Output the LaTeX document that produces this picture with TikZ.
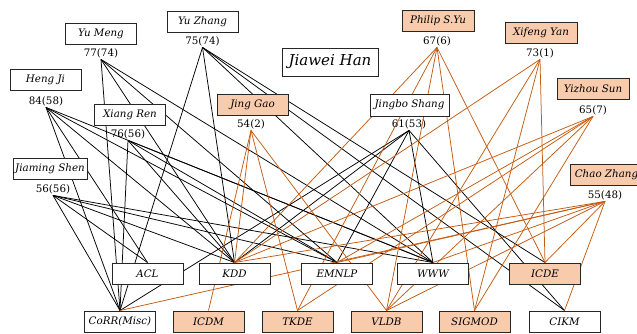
\documentclass[tikz,border=0pt]{standalone}
\usepackage{fontspec}
\setmainfont{DejaVu Serif}
\usetikzlibrary{backgrounds}
\definecolor{edgeor}{RGB}{197,90,17}
\definecolor{peach}{RGB}{248,203,173}
\begin{document}
\begin{tikzpicture}[x=1pt,y=-1pt,
  box/.style={draw=black!85,line width=1pt,minimum width=71pt,minimum height=21pt,inner sep=0pt,font=\fontsize{10.3}{12}\selectfont\itshape},
  obox/.style={box,fill=peach},
  wbox/.style={box,fill=white},
  num/.style={inner sep=1.5pt,font=\fontsize{10.3}{12}\selectfont},
  bl/.style={black,line width=0.75pt},
  orl/.style={edgeor,line width=0.75pt}]
\useasboundingbox (0,0) rectangle (637,333);
% people
\node[wbox] (ym) at (101,33.5) {Yu Meng};
\node[num] (ymL) at (101,53) {77(74)};
\node[wbox] (yz) at (202.5,21.5) {Yu Zhang};
\node[num] (yzL) at (202.5,41) {75(74)};
\node[wbox] (hj) at (45.5,79.5) {Heng Ji};
\node[num] (hjL) at (46,101) {84(58)};
\node[wbox] (xr) at (130,115) {Xiang Ren};
\node[num] (xrL) at (128,134) {76(56)};
\node[obox] (jg) at (252.5,104.5) {Jing Gao};
\node[num] (jgL) at (251,124) {54(2)};
\node[wbox,minimum width=74pt] (js) at (50,168.5) {Jiaming Shen};
\node[num] (jsL) at (53,189) {56(56)};
\node[wbox,minimum width=96pt,minimum height=28pt,font=\fontsize{15}{18}\selectfont\itshape] (jh) at (330,62) {Jiawei Han};
\node[obox,minimum width=72pt] (py) at (438,20.5) {Philip S.Yu};
\node[num] (pyL) at (437,41) {67(6)};
\node[obox,minimum width=72pt] (xy) at (541,32.5) {Xifeng Yan};
\node[num] (xyL) at (540,53) {73(1)};
\node[obox,minimum width=72pt] (ys) at (593,88.5) {Yizhou Sun};
\node[num] (ysL) at (593,110) {65(7)};
\node[wbox,minimum width=79pt,minimum height=22pt] (jb) at (409.5,105) {Jingbo Shang};
\node[num] (jbL) at (409,124) {61(53)};
\node[obox,minimum width=72pt,anchor=west] (cz) at (570,175) {Chao Zhang};
\node[num] (czL) at (605,195) {55(48)};
% venues
\node[wbox] (acl) at (147.5,273.5) {ACL};
\node[wbox] (kdd) at (234.5,273.5) {KDD};
\node[wbox] (emnlp) at (337,273.5) {EMNLP};
\node[wbox] (www) at (433,273.5) {WWW};
\node[obox] (icde) at (545,273.5) {ICDE};
\node[wbox] (corr) at (120,321.5) {CoRR(Misc)};
\node[obox] (icdm) at (208.5,321.5) {ICDM};
\node[obox] (tkde) at (297.5,321.5) {TKDE};
\node[obox] (vldb) at (386.5,321.5) {VLDB};
\node[obox] (sigmod) at (474.5,321.5) {SIGMOD};
\node[wbox] (cikm) at (564.5,321.5) {CIKM};
\begin{scope}[on background layer]
\foreach \v in {corr,kdd,emnlp,www} \draw[bl] (ymL.south) -- (\v.north);
\foreach \v in {corr,kdd,www,icde,cikm} \draw[bl] (yzL.south) -- (\v.north);
\foreach \v in {corr,acl,kdd,emnlp,www} \draw[bl] (hjL.south) -- (\v.north);
\foreach \v in {corr,kdd,emnlp,www} \draw[bl] (xrL.south) -- (\v.north);
\foreach \v in {corr,acl,kdd,emnlp,www} \draw[bl] (jsL.south) -- (\v.north);
\foreach \v in {corr,kdd,emnlp,www,cikm} \draw[bl] (jbL.south) -- (\v.north);
\foreach \v in {icdm,kdd,tkde,vldb} \draw[orl] (jgL.south) -- (\v.north);
\foreach \v in {kdd,tkde,vldb,sigmod,icde} \draw[orl] (pyL.south) -- (\v.north);
\foreach \v in {kdd,vldb,sigmod,icde} \draw[orl] (xyL.south) -- (\v.north);
\foreach \v in {kdd,emnlp,tkde,vldb,sigmod} \draw[orl] (ysL.south) -- (\v.north);
\foreach \v in {corr,kdd,emnlp,www,vldb,icde,cikm} \draw[orl] (czL.south) -- (\v.north);
\end{scope}
\end{tikzpicture}
\end{document}
